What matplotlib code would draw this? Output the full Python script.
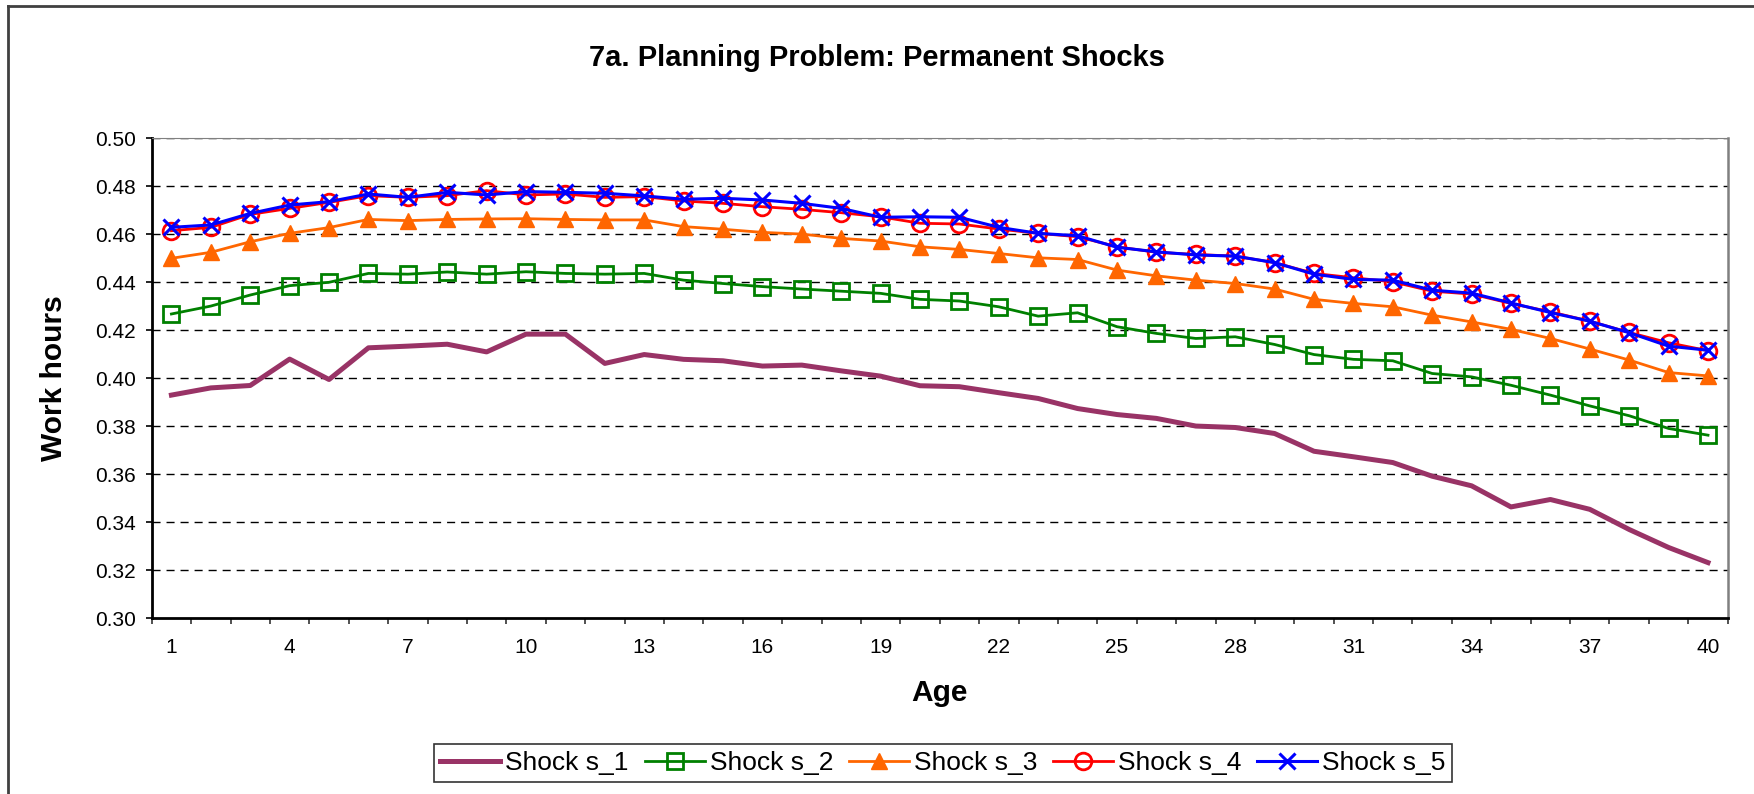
import matplotlib.pyplot as plt
from matplotlib.lines import Line2D

plt.rcParams["font.family"] = ["Liberation Sans", "DejaVu Sans"]

# work hours by age, one list per shock
age = list(range(1, 41))
shock_s1 = [0.3930, 0.3960, 0.3970, 0.4080, 0.3995, 0.4127, 0.4134, 0.4142, 0.4110, 0.4184,
            0.4184, 0.4062, 0.4099, 0.4079, 0.4073, 0.4051, 0.4055, 0.4031, 0.4009, 0.3969,
            0.3965, 0.3940, 0.3916, 0.3874, 0.3849, 0.3833, 0.3801, 0.3795, 0.3770, 0.3696,
            0.3673, 0.3649, 0.3592, 0.3552, 0.3464, 0.3495, 0.3454, 0.3370, 0.3295, 0.3232]
shock_s2 = [0.4268, 0.4301, 0.4347, 0.4386, 0.4400, 0.4437, 0.4434, 0.4443, 0.4434, 0.4444,
            0.4437, 0.4434, 0.4437, 0.4409, 0.4395, 0.4382, 0.4372, 0.4363, 0.4354, 0.4329,
            0.4322, 0.4298, 0.4259, 0.4273, 0.4215, 0.4187, 0.4166, 0.4173, 0.4141, 0.4099,
            0.4079, 0.4073, 0.4020, 0.4006, 0.3971, 0.3930, 0.3885, 0.3844, 0.3791, 0.3763]
shock_s3 = [0.4500, 0.4525, 0.4569, 0.4604, 0.4628, 0.4662, 0.4657, 0.4662, 0.4664, 0.4665,
            0.4662, 0.4660, 0.4660, 0.4632, 0.4621, 0.4608, 0.4601, 0.4583, 0.4572, 0.4548,
            0.4537, 0.4520, 0.4502, 0.4495, 0.4451, 0.4427, 0.4409, 0.4395, 0.4372, 0.4329,
            0.4312, 0.4298, 0.4263, 0.4235, 0.4204, 0.4166, 0.4122, 0.4076, 0.4024, 0.4010]
shock_s4 = [0.4615, 0.4629, 0.4683, 0.4708, 0.4733, 0.4761, 0.4754, 0.4761, 0.4782, 0.4764,
            0.4768, 0.4754, 0.4757, 0.4739, 0.4729, 0.4715, 0.4704, 0.4690, 0.4673, 0.4646,
            0.4643, 0.4622, 0.4604, 0.4590, 0.4548, 0.4525, 0.4516, 0.4509, 0.4482, 0.4437,
            0.4419, 0.4402, 0.4363, 0.4351, 0.4312, 0.4277, 0.4238, 0.4191, 0.4148, 0.4115]
shock_s5 = [0.4629, 0.4639, 0.4687, 0.4722, 0.4736, 0.4768, 0.4754, 0.4775, 0.4764, 0.4778,
            0.4775, 0.4771, 0.4760, 0.4746, 0.4750, 0.4743, 0.4729, 0.4708, 0.4671, 0.4673,
            0.4671, 0.4629, 0.4604, 0.4594, 0.4546, 0.4527, 0.4514, 0.4509, 0.4482, 0.4434,
            0.4412, 0.4409, 0.4367, 0.4355, 0.4314, 0.4274, 0.4238, 0.4190, 0.4134, 0.4117]
series_labels = ["Shock s_1", "Shock s_2", "Shock s_3", "Shock s_4", "Shock s_5"]
x_tick_labels = [1, 4, 7, 10, 13, 16, 19, 22, 25, 28, 31, 34, 37, 40]
y_ticks = [0.30, 0.32, 0.34, 0.36, 0.38, 0.40, 0.42, 0.44, 0.46, 0.48, 0.50]

fig = plt.figure(figsize=(17.54, 7.94), dpi=100)
ax = fig.add_axes([0.0865, 0.2213, 0.8985, 0.6045])

ax.plot(age, shock_s1, color="#993366", lw=3.6, label=series_labels[0], zorder=3)
ax.plot(age, shock_s2, color="#008000", lw=2, marker="s", ms=12, mfc="none",
        mec="#008000", mew=2, label=series_labels[1], zorder=4)
ax.plot(age, shock_s3, color="#FF6600", lw=2, marker="^", ms=12, mfc="#FF6600",
        mec="#FF6600", label=series_labels[2], zorder=5)
ax.plot(age, shock_s4, color="#FF0000", lw=2, marker="o", ms=12, mfc="none",
        mec="#FF0000", mew=2, label=series_labels[3], zorder=6)
ax.plot(age, shock_s5, color="#0000FF", lw=2.2, marker="x", ms=12, mew=2.2,
        label=series_labels[4], zorder=7)

ax.set_xlim(0.5, 40.5)
ax.set_ylim(0.30, 0.50)
ax.set_yticks(y_ticks)
ax.set_yticklabels([f"{v:.2f}" for v in y_ticks])
ax.set_xticks(x_tick_labels)
ax.set_xticks([i + 0.5 for i in range(0, 41)], minor=True)
ax.tick_params(axis="x", which="major", length=0, pad=14, labelsize=15)
ax.tick_params(axis="x", which="minor", length=4.5, width=1.2, color="#333333")
ax.tick_params(axis="y", length=4.5, width=1.2, pad=7, labelsize=15)

for y in y_ticks[1:]:
    ax.axhline(y, color="black", lw=1.0, ls=(0, (5.8, 4.3)), zorder=1)

ax.spines["left"].set_linewidth(2)
ax.spines["bottom"].set_linewidth(2)
ax.spines["top"].set_color("#808080")
ax.spines["right"].set_color("#808080")
ax.spines["right"].set_linewidth(1.8)

ax.set_xlabel("Age", fontsize=21.5, fontweight="bold", labelpad=16)
ax.set_ylabel("Work hours", fontsize=21.5, fontweight="bold", labelpad=19)
fig.text(0.5, 1 - 58 / 794, "7a. Planning Problem: Permanent Shocks", fontsize=21,
         fontweight="bold", ha="center", va="center")

leg = fig.legend(loc="center", bbox_to_anchor=(0.5376, 0.039), ncol=5,
                 fontsize=19, frameon=True, fancybox=False, handlelength=2.27,
                 handletextpad=0.19, columnspacing=0.6, borderpad=0.25)
leg.get_frame().set_edgecolor("black")
leg.get_frame().set_linewidth(1.2)

# outer chart border, only left and top show in the crop
fig.add_artist(Line2D([7.7 / 1754, 7.7 / 1754], [0, 1 - 5.7 / 794],
                      transform=fig.transFigure, color="#404040", lw=2))
fig.add_artist(Line2D([7.7 / 1754, 1], [1 - 5.7 / 794, 1 - 5.7 / 794],
                      transform=fig.transFigure, color="#404040", lw=2))

fig.savefig("out.png", dpi=100)
